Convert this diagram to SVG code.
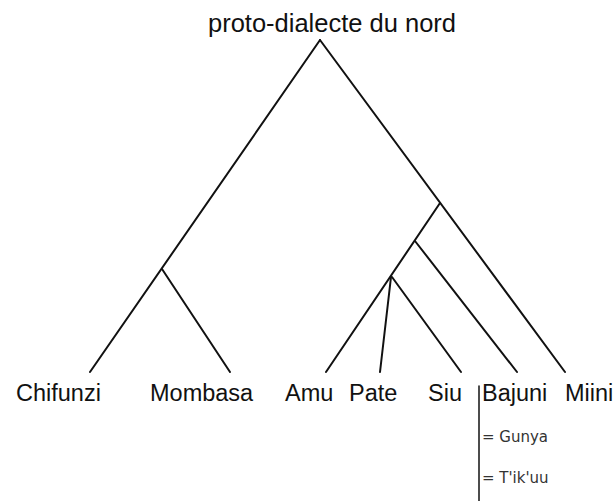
<svg xmlns="http://www.w3.org/2000/svg" width="614" height="501" viewBox="0 0 614 501">
<style>
.e{stroke:#111;stroke-width:2;fill:none;stroke-linecap:round}
.t{font-family:"Liberation Sans",Arial,sans-serif;font-size:23.5px;fill:#111}
.s{font-family:"DejaVu Sans",Verdana,sans-serif;font-size:15px;fill:#333}
</style>
<rect width="614" height="501" fill="#fff"/>
<g id="root"><text class="t" x="332" y="32" text-anchor="middle" style="font-size:25.5px">proto-dialecte du nord</text></g>
<g id="connectors">
<path class="e" d="M320 40 L90 372"/>
<path class="e" d="M320 40 L565 372"/>
<path class="e" d="M162 269 L230 372"/>
<path class="e" d="M440 203 L326 372"/>
<path class="e" d="M415 241 L517 372"/>
<path class="e" d="M391 277 L380 372"/>
<path class="e" d="M392 277 L461 372"/>
<path class="e" d="M479 386 L479 501" style="stroke-width:1.5"/>
</g>
<g id="chifunzi"><text class="t" x="16" y="401">Chifunzi</text></g>
<g id="mombasa"><text class="t" x="150" y="401">Mombasa</text></g>
<g id="amu"><text class="t" x="285" y="401">Amu</text></g>
<g id="pate"><text class="t" x="349" y="401">Pate</text></g>
<g id="siu"><text class="t" x="428" y="401">Siu</text></g>
<g id="bajuni"><text class="t" x="482" y="401">Bajuni</text></g>
<g id="miini"><text class="t" x="565" y="401">Miini</text></g>
<g id="gunya"><text class="s" x="482" y="442">= Gunya</text></g>
<g id="tikuu"><text class="s" x="482" y="483">= T'ik'uu</text></g>
</svg>
